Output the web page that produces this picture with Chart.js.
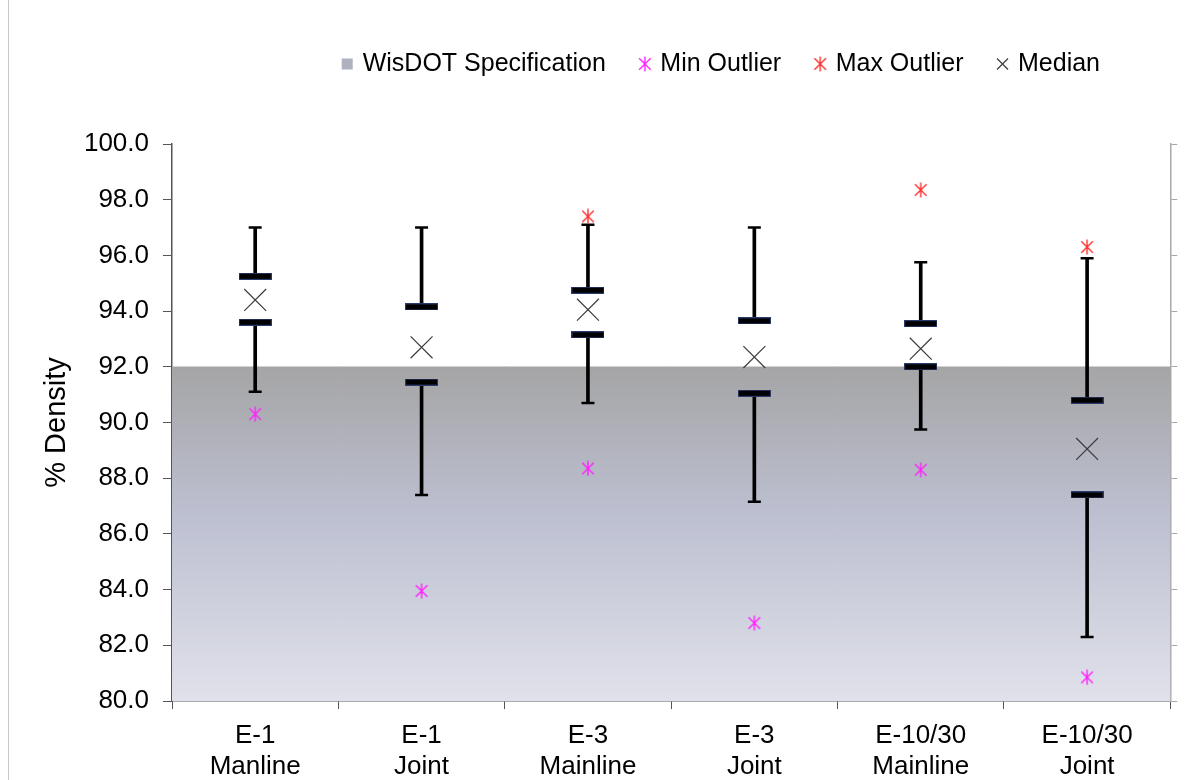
<!DOCTYPE html>
<html>
<head>
<meta charset="utf-8">
<title>% Density by Mix and Location</title>
<script src="https://cdn.jsdelivr.net/npm/chart.js@4.4.1/dist/chart.umd.min.js"></script>
<style>
  html, body { margin: 0; padding: 0; background: #fff; overflow: hidden; }
  #wrap { position: relative; width: 1187px; height: 780px; }
  #frame { position: absolute; left: 8px; top: 0; bottom: 0; width: 1px; background: #c9c9c9; }
  canvas { position: absolute; left: 0; top: 0; }
</style>
</head>
<body>
<div id="wrap">
  <div id="frame"></div>
  <canvas id="densityChart" width="1187" height="780"></canvas>
</div>
<script>
// mix / location groups
const categories = [
    ['E-1', 'Manline'],
    ['E-1', 'Joint'],
    ['E-3', 'Mainline'],
    ['E-3', 'Joint'],
    ['E-10/30', 'Mainline'],
    ['E-10/30', 'Joint']
];

// box plot values (% density)
const whiskerMax = [97.0, 97.0, 97.1, 97.0, 95.75, 95.9];
const quartile3  = [95.25, 94.15, 94.75, 93.65, 93.55, 90.8];
const medians    = [94.4, 92.7, 94.05, 92.35, 92.65, 89.05];
const quartile1  = [93.6, 91.45, 93.15, 91.05, 92.0, 87.4];
const whiskerMin = [91.1, 87.4, 90.7, 87.15, 89.75, 82.3];
const minOutliers = [90.3, 83.95, 88.35, 82.8, 88.3, 80.85];
const maxOutliers = [null, null, 97.4, null, 98.35, 96.3];

// WisDOT minimum density and axis range
const specLimit = 92.0;
const axisMin = 80;
const axisMax = 100;
const axisStep = 2;

// small canvases used as point markers
function makeQuartileBar(w, h) {
    const c = document.createElement('canvas');
    c.width = w;
    c.height = h;
    const g = c.getContext('2d');
    g.fillStyle = '#2b3a6b';
    g.fillRect(0, 0, w, h);
    g.fillStyle = '#000';
    g.fillRect(1, 1, w - 2, h - 2);
    return c;
}

function makeAsterisk(size, color) {
    const c = document.createElement('canvas');
    c.width = size;
    c.height = size;
    const g = c.getContext('2d');
    const m = size / 2;
    const d = size * 0.36;
    g.strokeStyle = color;
    g.lineWidth = 1.4;
    g.beginPath();
    g.moveTo(m, 0.5);
    g.lineTo(m, size - 0.5);
    g.moveTo(m - d, m - d);
    g.lineTo(m + d, m + d);
    g.moveTo(m + d, m - d);
    g.lineTo(m - d, m + d);
    g.stroke();
    return c;
}

const quartileMark = makeQuartileBar(33, 7);
const minStar = makeAsterisk(16, '#ff22ff');
const maxStar = makeAsterisk(16, '#ff3030');

function specGradient(context) {
    const chart = context.chart;
    if (!chart.chartArea) return '#b0b1bf';
    const y = chart.scales.y;
    const top = y.getPixelForValue(specLimit);
    const bottom = y.getPixelForValue(axisMin);
    const grad = chart.ctx.createLinearGradient(0, top, 0, bottom);
    grad.addColorStop(0, '#a5a5a6');
    grad.addColorStop(0.45, '#bdc0d1');
    grad.addColorStop(1, '#e0e1ea');
    return grad;
}

// moves the legend row into the top right gap above the plot
const legendShift = {
    id: 'legendShift',
    afterLayout(chart, args, opts) {
        const lg = chart.legend;
        if (!lg) return;
        lg.top += opts.dy;
        lg.bottom += opts.dy;
        lg.left += opts.dx;
        lg.right += opts.dx;
    }
};

Chart.defaults.font.family = "'Liberation Sans', Arial, sans-serif";
Chart.defaults.color = '#000';

const ctx = document.getElementById('densityChart').getContext('2d');

new Chart(ctx, {
    type: 'bar',
    data: {
        labels: categories,
        datasets: [{
            label: 'WisDOT Specification',
            data: categories.map(() => [axisMin, specLimit]),
            backgroundColor: specGradient,
            borderWidth: 0,
            barPercentage: 1,
            categoryPercentage: 1,
            grouped: false,
            pointStyle: 'rect',
            order: 10
        },
        {
            type: 'line',
            label: 'Min Outlier',
            data: minOutliers,
            showLine: false,
            pointStyle: minStar,
            pointRadius: 7,
            order: 1
        },
        {
            type: 'line',
            label: 'Max Outlier',
            data: maxOutliers,
            showLine: false,
            pointStyle: maxStar,
            pointRadius: 7,
            order: 1
        },
        {
            type: 'line',
            label: 'Median',
            data: medians,
            showLine: false,
            pointStyle: 'crossRot',
            pointRadius: 15.5,
            borderColor: '#3c3c3c',
            backgroundColor: '#3c3c3c',
            pointBorderWidth: 1.2,
            order: 3
        },
        {
            label: 'Upper whisker',
            data: whiskerMax.map((v, i) => [quartile3[i], v]),
            backgroundColor: '#000',
            borderWidth: 0,
            barThickness: 3,
            grouped: false,
            order: 6
        },
        {
            label: 'Lower whisker',
            data: whiskerMin.map((v, i) => [v, quartile1[i]]),
            backgroundColor: '#000',
            borderWidth: 0,
            barThickness: 3,
            grouped: false,
            order: 6
        },
        {
            type: 'line',
            label: 'Max',
            data: whiskerMax,
            showLine: false,
            pointStyle: 'line',
            pointRadius: 6.5,
            borderColor: '#000',
            pointBorderWidth: 2.5,
            order: 5
        },
        {
            type: 'line',
            label: 'Min',
            data: whiskerMin,
            showLine: false,
            pointStyle: 'line',
            pointRadius: 6.5,
            borderColor: '#000',
            pointBorderWidth: 2.5,
            order: 5
        },
        {
            type: 'line',
            label: 'Q3',
            data: quartile3,
            showLine: false,
            pointStyle: quartileMark,
            pointRadius: 5,
            order: 4
        },
        {
            type: 'line',
            label: 'Q1',
            data: quartile1,
            showLine: false,
            pointStyle: quartileMark,
            pointRadius: 5,
            order: 4
        }]
    },
    options: {
        responsive: false,
        animation: false,
        events: [],
        layout: {
            padding: { top: 73, left: 0, right: 0, bottom: 0 }
        },
        scales: {
            x: {
                offset: true,
                afterFit(scale) { scale.height = 79; },
                grid: {
                    offset: true,
                    drawOnChartArea: false,
                    tickLength: 8,
                    color: '#555'
                },
                border: { color: '#555', width: 1.5 },
                ticks: {
                    font: { size: 26 },
                    padding: 11,
                    maxRotation: 0
                }
            },
            y: {
                min: axisMin,
                max: axisMax,
                afterFit(scale) { scale.width = 172; },
                grid: {
                    drawOnChartArea: false,
                    tickLength: 9,
                    color: '#555'
                },
                border: { color: '#555', width: 1.5 },
                ticks: {
                    stepSize: axisStep,
                    font: { size: 26 },
                    padding: 14,
                    callback: (v) => v.toFixed(1)
                },
                title: {
                    display: true,
                    text: '% Density',
                    font: { size: 29 },
                    padding: { top: 40, bottom: 0 }
                }
            },
            y2: {
                position: 'right',
                min: axisMin,
                max: axisMax,
                afterFit(scale) { scale.width = 7; },
                grid: {
                    drawOnChartArea: false,
                    tickLength: 7,
                    color: '#a8a8a8'
                },
                border: { color: '#a8a8a8', width: 1.5 },
                ticks: {
                    stepSize: axisStep,
                    display: false
                }
            }
        },
        plugins: {
            tooltip: { enabled: false },
            legend: {
                position: 'top',
                align: 'end',
                labels: {
                    usePointStyle: true,
                    boxWidth: 6,
                    boxHeight: 11,
                    padding: 36,
                    font: { size: 25 },
                    filter: (item) => item.datasetIndex < 4,
                    sort: (a, b) => a.datasetIndex - b.datasetIndex,
                    generateLabels(chart) {
                        const items = Chart.defaults.plugins.legend.labels.generateLabels(chart);
                        items.forEach((item) => {
                            if (item.datasetIndex === 0) {
                                item.fillStyle = '#b0b1bf';
                            }
                        });
                        return items;
                    }
                }
            },
            legendShift: { dx: -51, dy: -57.5 }
        }
    },
    plugins: [legendShift]
});
</script>
</body>
</html>
